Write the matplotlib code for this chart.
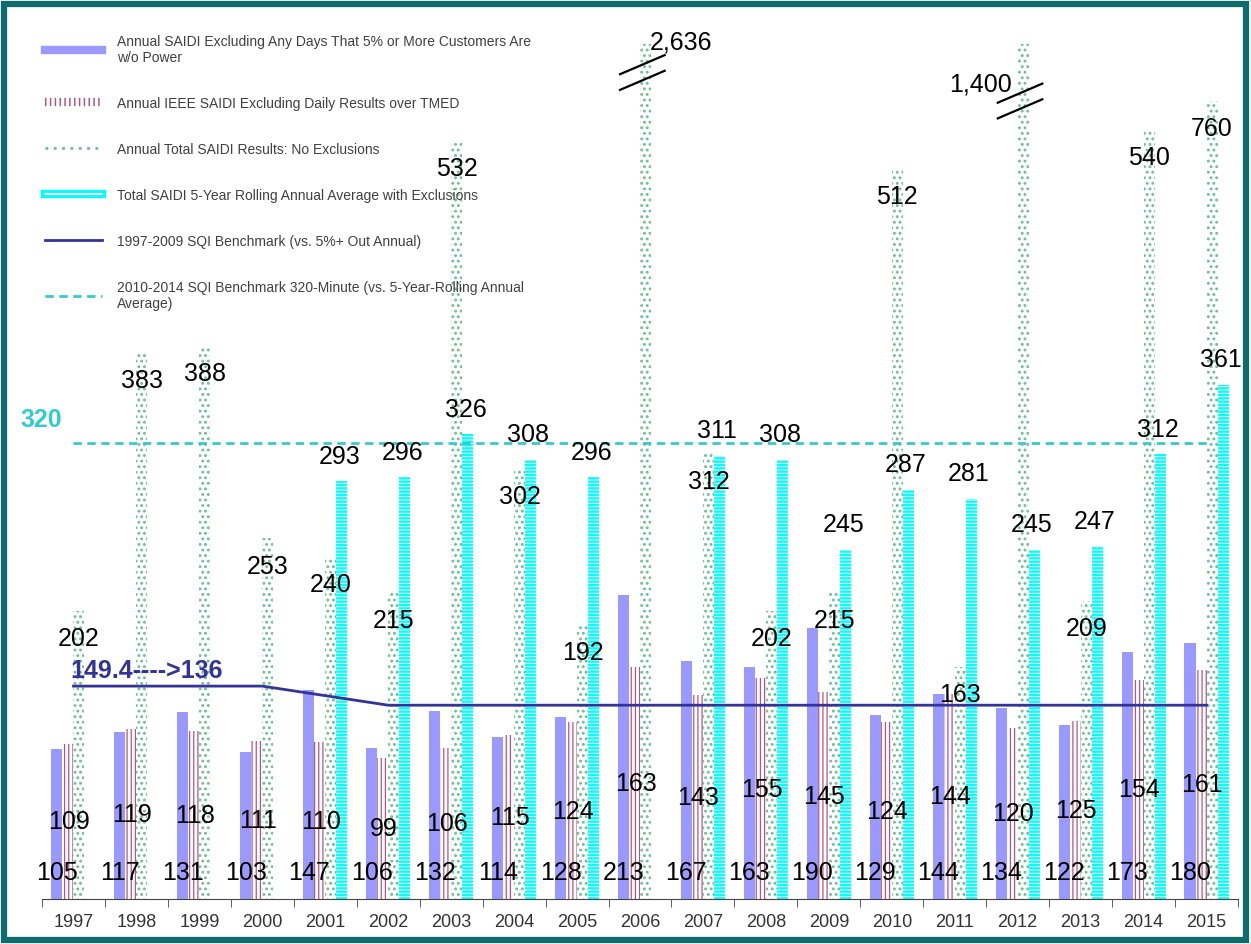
import numpy as np
import matplotlib.pyplot as plt
import matplotlib.patheffects as pe
from matplotlib.lines import Line2D
from matplotlib.patches import Rectangle

plt.rcParams['font.family'] = ['Liberation Sans', 'DejaVu Sans']

years = [str(y) for y in range(1997, 2016)]
saidi_excl = [105, 117, 131, 103, 147, 106, 132, 114, 128, 213, 167, 163, 190, 129, 144, 134, 122, 173, 180]
ieee_saidi = [109, 119, 118, 111, 110, 99, 106, 115, 124, 163, 143, 155, 145, 124, 144, 120, 125, 154, 161]
total_saidi = [202, 383, 388, 253, 240, 215, 532, 302, 192, 2636, 312, 202, 215, 512, 163, 1400, 209, 540, 760]
# heights as drawn in the chart (tallest bars are cut)
total_drawn = [202, 383, 388, 253, 240, 215, 532, 302, 192, 600, 312, 202, 215, 512, 163, 600, 209, 540, 560]
rolling_avg = [np.nan, np.nan, np.nan, np.nan, 293, 296, 326, 308, 296, np.nan,
               311, 308, 245, 287, 281, 245, 247, 312, 361]
sqi_benchmark = [149.4, 149.4, 149.4, 149.4, 142.7] + [136] * 14
sqi_320 = [320] * 19

labels = ['Annual SAIDI Excluding Any Days That 5% or More Customers Are\nw/o Power',
          'Annual IEEE SAIDI Excluding Daily Results over TMED',
          'Annual Total SAIDI Results: No Exclusions',
          'Total SAIDI 5-Year Rolling Annual Average with Exclusions',
          '1997-2009 SQI Benchmark (vs. 5%+ Out Annual)',
          '2010-2014 SQI Benchmark 320-Minute (vs. 5-Year-Rolling Annual\nAverage)']

c_blue = '#9999ff'
c_maroon = '#b3567f'
c_green = '#6cbf92'
c_cyan = '#00ffff'
c_navy = '#333399'
c_teal = '#33cccc'

W, H = 1251, 945
fig = plt.figure(figsize=(W / 100, H / 100), dpi=100)
ax = fig.add_axes([42 / W, 45 / H, 1196 / W, 855 / H])

x = np.arange(len(years))
w = 0.175
ymax = 600

def hatch_lw(bars, lw):
    for b in bars:
        if hasattr(b, 'set_hatch_linewidth'):
            b.set_hatch_linewidth(lw)

plt.rcParams['hatch.linewidth'] = 1.0
ax.bar(x - 1.5 * w, saidi_excl, w, color=c_blue, zorder=2)
b2 = ax.bar(x - 0.5 * w, ieee_saidi, w, facecolor='none', edgecolor=c_maroon,
            linewidth=0, hatch='||||', zorder=2)
hatch_lw(b2, 0.9)
b3 = ax.bar(x + 0.5 * w, total_drawn, w, facecolor='none', edgecolor=c_green,
            linewidth=0, hatch='...', zorder=2)
hatch_lw(b3, 1.3)
b4 = ax.bar(x + 1.5 * w, rolling_avg, w, facecolor='none', edgecolor=c_cyan,
            linewidth=0, hatch='-----', zorder=2)
hatch_lw(b4, 1.7)

ax.plot(x, sqi_benchmark, color=c_navy, lw=2, zorder=4)
ax.plot(x, sqi_320, color=c_teal, lw=2, ls=(0, (3, 2)), zorder=4)

# value labels
fs = 18
for i in range(len(years)):
    ax.text(x[i] - 1.5 * w, 19, str(saidi_excl[i]), ha='center', va='center', fontsize=fs, zorder=5)
    ax.text(x[i] - 0.4 * w, ieee_saidi[i] / 2, str(ieee_saidi[i]), ha='center', va='center',
            fontsize=fs, zorder=5)
    if not np.isnan(rolling_avg[i]):
        ax.text(x[i] + 1.3 * w, rolling_avg[i] + 18, str(int(rolling_avg[i])), ha='center',
                va='center', fontsize=fs, zorder=5)
    if total_drawn[i] < ymax:
        ax.text(x[i] + 0.5 * w, total_drawn[i] - 19, str(total_saidi[i]), ha='center',
                va='center', fontsize=fs, zorder=5)

# broken bars: 2006 and 2012
i06, i12 = years.index('2006'), years.index('2012')
ax.text(x[i06] + 0.9 * w, 602, f'{total_saidi[i06]:,}', ha='left', va='center', fontsize=fs,
        clip_on=False, zorder=5)
ax.text(x[i12] - 0.1, 572, f'{total_saidi[i12]:,}', ha='right', va='center', fontsize=fs,
        zorder=5)
for i, yb in [(i06, 580), (i12, 560)]:
    cx = x[i] + 0.5 * w - 0.05
    for dy in (5.5, -5.5):
        ax.plot([cx - 0.37, cx + 0.37], [yb + dy - 7, yb + dy + 7], color='black', lw=1.6,
                zorder=5, solid_capstyle='butt')

ax.text(x[0] - 0.05, 152, '149.4---->136', color=c_navy, fontsize=18, fontweight='bold',
        ha='left', va='bottom', zorder=5)
fig.text(20 / W, 1 - 420 / H, '320', color=c_teal, fontsize=18, fontweight='bold',
         ha='left', va='center')

ax.set_xlim(-0.5, len(years) - 0.5)
ax.set_ylim(0, ymax)
for s in ['top', 'right', 'left']:
    ax.spines[s].set_visible(False)
ax.spines['bottom'].set_color('#444444')
ax.set_yticks([])
ax.set_xticks(x)
ax.set_xticklabels(years, fontsize=13, color='#333333')
ax.set_xticks(np.arange(-0.5, len(years)), minor=True)
ax.tick_params(axis='x', which='major', length=0, pad=10)
ax.tick_params(axis='x', which='minor', length=6, color='#444444')

handles = [
    Line2D([], [], color=c_blue, lw=6),
    Line2D([], [], color=c_maroon, lw=6, ls=(0, (0.18, 0.4))),
    Line2D([], [], color=c_green, lw=2, ls=(0, (1, 2))),
    Line2D([], [], color=c_cyan, lw=6,
           path_effects=[pe.Stroke(linewidth=6, foreground=c_cyan),
                         pe.Stroke(linewidth=1.5, foreground='white')]),
    Line2D([], [], color=c_navy, lw=2),
    Line2D([], [], color=c_teal, lw=2, ls=(0, (3, 2))),
]
fig.legend(handles, labels, loc='upper left', bbox_to_anchor=(38 / W, 1 - 28 / H),
           frameon=False, fontsize=10, labelcolor='#404040', handlelength=4.1,
           handletextpad=1.1, labelspacing=2.3, borderpad=0)

fig.patches.append(Rectangle((4 / W, 4 / H), 1 - 9 / W, 1 - 9 / H, transform=fig.transFigure,
                             fill=False, edgecolor='#0e6b6e', linewidth=4.5))

fig.savefig('out.png', dpi=100)
